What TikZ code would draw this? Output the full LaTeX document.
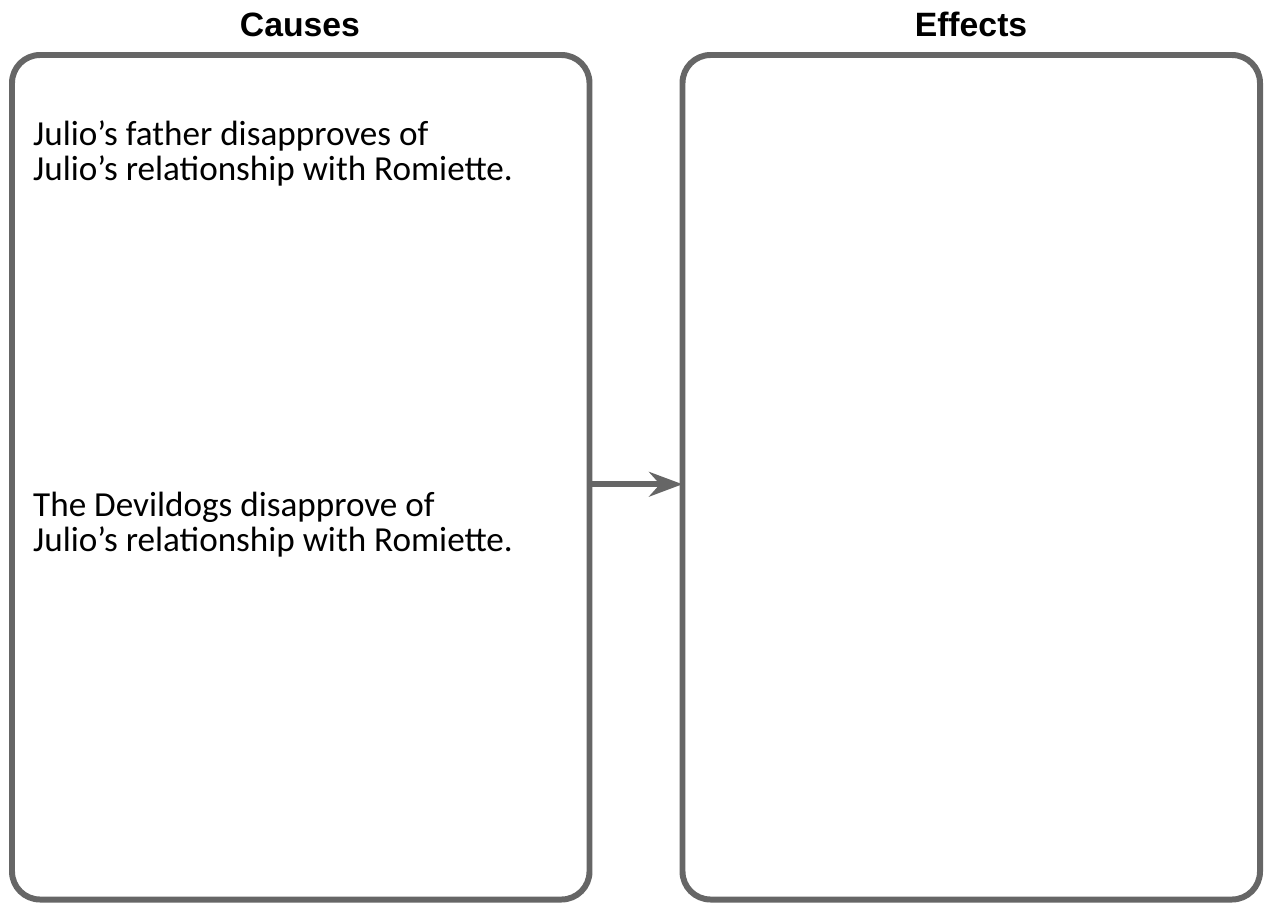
\documentclass[tikz,border=0pt]{standalone}
\usepackage{fontspec}
\setmainfont{Carlito}
\newfontfamily\headfont{Liberation Sans}
\usetikzlibrary{arrows.meta,positioning}
\definecolor{frame}{HTML}{666666}

\begin{document}
\begin{tikzpicture}[
  >={Stealth[length=19pt, width=14pt]},
  panel/.style={draw=frame, line width=3.4pt, rounded corners=0.56cm,
    minimum width=11.55cm, minimum height=16.89cm, outer sep=0pt, inner sep=0pt},
  head/.style={font=\headfont\bfseries\fontsize{19.2}{22}\selectfont, anchor=base},
  note/.style={font=\fontsize{20}{19.8}\selectfont, align=left, anchor=base west}]
  \useasboundingbox (0,0) rectangle (25.28,-18.06);
  % paneles
  \node[panel] (causes)  at (6.015,-9.545) {};
  \node[panel] (effects) at (19.425,-9.545) {};
  % titulos
  \node[head] (hcauses)  at (6.0,-0.72)   {Causes};
  \node[head] (heffects) at (19.42,-0.72) {Effects};
  % causas (base = ultima linea)
  \node[note] (father) at (0.54,-3.6)
    {Julio's father disapproves of\\Julio's relationship with Romiette.};
  \node[note] (dogs)   at (0.54,-11.02)
    {The Devildogs disapprove of\\Julio's relationship with Romiette.};
  % flecha
  \draw[->, draw=frame, fill=frame, line width=3.4pt]
    ([yshift=-0.14cm]causes.east) -- ([yshift=-0.14cm]effects.west);
\end{tikzpicture}
\end{document}
